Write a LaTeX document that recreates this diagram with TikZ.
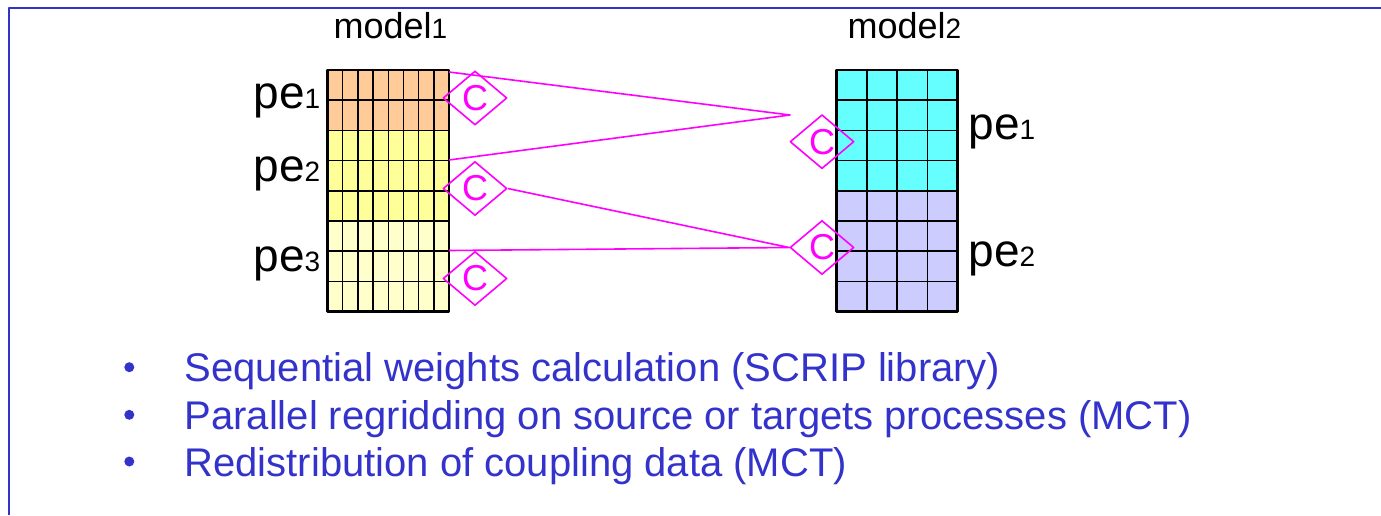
\documentclass[tikz,border=0pt]{standalone}
\usepackage{fontspec}
\setmainfont{Liberation Sans}
\usetikzlibrary{shapes.geometric}
\definecolor{slideblue}{RGB}{51,51,204}
\definecolor{cplmag}{RGB}{255,0,255}
\definecolor{pea}{HTML}{FFCC99}
\definecolor{lemon}{HTML}{FFFF99}
\definecolor{cream}{HTML}{FFFFCC}
\definecolor{aqua}{HTML}{66FFFF}
\definecolor{lilac}{HTML}{CCCCFF}
% small digit after model/pe names
\newcommand\numsub[1]{{\fontsize{28}{28}\selectfont #1}}
\tikzset{
  cpl/.style={diamond, draw=cplmag, line width=1.6pt, text=cplmag,
    minimum width=64pt, minimum height=54pt, inner sep=0pt,
    font=\fontsize{36}{36}\selectfont},
  link/.style={cplmag, line width=1.6pt},
  cell/.style={line width=1.5pt},
  pelabel/.style={anchor=base west, font=\fontsize{46}{46}\selectfont},
  itemtext/.style={anchor=base west, text=slideblue, font=\fontsize{40}{40}\selectfont}
}
\begin{document}
\begin{tikzpicture}[x=1pt,y=-1pt,line join=round]
\useasboundingbox (0,0) rectangle (1381,515);
% frame
\draw[slideblue,line width=2.5pt] (9,515) -- (9,8) -- (1381,8);
% model1 grid, 8x8
\fill[pea] (327.5,70) rectangle (449,130.4);
\fill[lemon] (327.5,130.4) rectangle (449,221);
\fill[cream] (327.5,221) rectangle (449,311.5);
\foreach \i in {1,...,7}{
  \draw[cell] ({327.5+\i*15.19},70) -- ++(0,241.5);
  \draw[cell] (327.5,{70+\i*30.19}) -- (449,{70+\i*30.19});
}
\draw[line width=2.2pt] (327.5,70) rectangle (449,311.5);
% model2 grid, 4x8
\fill[aqua] (836.5,70) rectangle (957.5,190.8);
\fill[lilac] (836.5,190.8) rectangle (957.5,311.5);
\foreach \i in {1,...,3}
  \draw[cell] ({836.5+\i*30.25},70) -- ++(0,241.5);
\foreach \i in {1,...,7}
  \draw[cell] (836.5,{70+\i*30.19}) -- (957.5,{70+\i*30.19});
\draw[line width=2.2pt] (836.5,70) rectangle (957.5,311.5);
% titles and pe labels
\node[anchor=base west,font=\fontsize{36}{36}\selectfont] (m1) at (330,38.3) {model\numsub{1}};
\node[anchor=base west,font=\fontsize{36}{36}\selectfont] (m2) at (844,38.3) {model\numsub{2}};
\node[pelabel] (pa1) at (250,108.3) {pe\numsub{1}};
\node[pelabel] (pa2) at (250,181.7) {pe\numsub{2}};
\node[pelabel] (pa3) at (250,271.7) {pe\numsub{3}};
\node[pelabel] (pb1) at (965,139) {pe\numsub{1}};
\node[pelabel] (pb2) at (965,266) {pe\numsub{2}};
% couplers
\node[cpl] (c1) at (475,98) {C};
\node[cpl] (c2) at (475,188.5) {C};
\node[cpl] (c3) at (475,278.5) {C};
\node[cpl] (d1) at (822,141.7) {C};
\node[cpl] (d2) at (822,247.5) {C};
\coordinate (s1) at (449,72);
\coordinate (s2) at (449,160);
\coordinate (s3) at (449,250.5);
\coordinate (hub) at (790,115);
\draw[link] (s1) -- (hub) -- (s2);
\draw[link] (c2.east) -- (d2.west) -- (s3);
% bullet list
\foreach \y/\t [count=\k] in {381.7/Sequential weights calculation (SCRIP library),
    429.3/Parallel regridding on source or targets processes (MCT),
    476/Redistribution of coupling data (MCT)}{
  \fill[slideblue] (129.3,{\y-14.5}) circle (5);
  \node[itemtext] (item\k) at (181,\y) {\t};
}
\end{tikzpicture}
\end{document}
